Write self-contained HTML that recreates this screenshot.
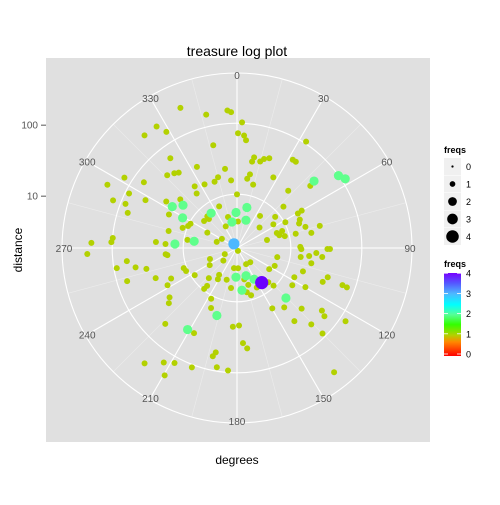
<!DOCTYPE html>
<html><head><meta charset="utf-8"><style>
html,body{margin:0;padding:0;background:#fff;}
svg text{font-family:"Liberation Sans",sans-serif;}
</style></head><body>
<svg id="chart" width="500" height="500" viewBox="0 0 500 500">
<rect x="0" y="0" width="500" height="500" fill="#fff"/>
<rect x="46" y="58" width="384" height="384" fill="#e0e0e0"/>
<g id="grid"></g>
<g id="points"></g>
<g id="alabels"></g>
<text x="237" y="56" font-size="14" text-anchor="middle" fill="#000">treasure log plot</text>
<text x="237" y="464" font-size="12" text-anchor="middle" fill="#000">degrees</text>
<text x="22" y="250" font-size="12" text-anchor="middle" fill="#000" transform="rotate(-90 22 250)">distance</text>
<g id="yaxis"></g>
<g>
<text x="444" y="153" font-size="9" font-weight="bold">freqs</text>
<g id="sizeLegend"></g>
</g>
<g>
<text x="444" y="267" font-size="9" font-weight="bold">freqs</text>
<defs><linearGradient id="rb" x1="0" y1="1" x2="0" y2="0">
<stop offset="0" stop-color="#ff0000"/><stop offset="0.17" stop-color="#ff8800"/><stop offset="0.25" stop-color="#b3d100"/><stop offset="0.38" stop-color="#33ff00"/><stop offset="0.5" stop-color="#55ff99"/><stop offset="0.62" stop-color="#00ffff"/><stop offset="0.75" stop-color="#4db8ff"/><stop offset="0.88" stop-color="#5555ff"/><stop offset="1" stop-color="#7700ff"/></linearGradient></defs>
<rect x="444" y="273" width="17" height="83" fill="url(#rb)"/>
<g id="colorLegend"></g>
</g>
</svg>
<script>
const degrees=[338,347,356,357.5,2.3,0.5,3.6,4.8,347,326.5,328.7,320.6,33,323.4,10.7,9.9,15,16.9,19.8,32.3,34.3,333.7,351.4,320,322.3,316.2,302,296,305.2,345,10,8.4,14.3,355,27.2,333,341.3,325.5,323.5,0,41.8,49.7,49,54.5,57.4,296.8,291,291.6,297.6,287.8,303.3,310.6,302.6,308.4,336.8,48.3,296.2,316.8,316,309.3,323.4,343.8,358.4,13.7,35.7,50.8,57,60.5,60,65.7,68.5,62,72.8,75,299,297.6,294.2,290.3,349,2,17.8,332.4,284,297.3,47.7,78.5,76.4,69.4,73.2,76,69.3,75,274.2,273.2,279.3,278.8,279,273.7,286.7,301,272.7,274.6,272,267.7,323,162,89,91,90.6,90.6,93.6,102.7,96.3,96,243.4,265,247.8,263.2,264.2,227.3,98,237.8,101.6,260.5,259.2,257,249.3,245.7,188.5,177,137,150.6,115.3,123.3,109.5,253.2,249.7,245.2,237.3,223,213.7,211.5,198,182,162,151.3,167,144.5,137.6,135.8,117,124,107.9,111.6,109.4,109.7,119.8,241.8,218.3,218.8,163,188.5,153.4,173.4,167.5,163.4,233.8,231,207,203.4,135.6,149.7,141.5,133.2,126.4,128,196.6,223.4,183,178.5,141.9,135.8,124,211.2,206.8,135,176.4,174.2,191.5,192.6,218.7,212.6,208.5,209.6,200.7,189.6,184.2,142,156.5];
const distance=[250,158,163,153,110,77,72,62,57,210,153,210,114,70,37,32,34,38,41,55,55,35,25,44,41,49,138,200,75,20,21,18,15.5,16.8,24.5,18.9,18,21,16.8,10.6,22.5,42,51,106,120,94,138,91,53,77,29,21,22.5,17.4,8.1,14,21.8,7.6,6.9,7.4,7.6,5.3,5.9,7.2,6.7,9.2,7.6,18,21,17.4,16.2,11,19,30,14,10.2,10.6,12.2,4.4,4.4,4.8,4.1,18.3,5.5,5,21.8,13.2,7.4,7.8,9.2,8.9,5.1,26,19,9.5,8.1,7.6,14,3.7,3.3,110,106,210,240,2.2,2.05,14.5,15,35,38,24.5,7.1,19.6,30,2.9,19,4.8,68,18,3.4,15,5.3,21.8,97,53,38,11.8,11.4,3.6,3.6,3.5,3.4,7.2,6.5,18,77,31,19.6,9.5,7.1,5.3,6.1,5.5,4.8,4.8,5.9,5.3,7.4,8.4,10.2,15,16.2,41,37,70,82,24,24,8.9,10.2,6.5,6.9,7.8,7.4,8.1,9.2,28,32,11.8,15.5,18,18,21.8,33,57,68,18.3,55,24,23,38,59,130,41,41,94,41,49,59,68,225,153,130,215,117,94,100,310,185];
const freqs=[1,1,1,1,1,1,1,1,1,1,1,1,1,1,1,1,1,1,1,1,1,1,1,1,1,1,1,1,1,1,1,1,1,1,1,1,1,1,1,1,1,1,2,2,2,1,1,1,1,1,1,1,2,2,1,1,1,1,1,1,2,1,2,2,1,1,1,1,1,1,1,1,1,1,2,1,1,1,2,1,2,1,1,1,1,1,1,1,1,1,1,1,1,1,1,1,2,2,1,1,1,1,1,1,3,1,1,1,1,1,1,1,1,1,1,1,1,1,1,1,1,1,1,1,1,1,1,1,1,1,1,1,1,1,1,1,1,1,1,1,1,1,1,2,2,2,1,4,1,1,1,1,1,1,1,1,1,1,1,1,1,1,1,2,1,1,1,1,1,1,2,1,1,1,1,1,2,1,1,1,1,1,1,2,1,1,1,1,1,1,1,1,1,1,1,1,1,1];
const angleTicks=[0,30,60,90,120,150,180,210,240,270,300,330];
const radialTicks=[10,100];
const legendFreqs=[0,1,2,3,4];
const NS='http://www.w3.org/2000/svg';
const cx=237,cy=248,R=175,L0=0.27,K=71;
function rScale(d){return (Math.log10(d)-L0)*K;}
function px(a,r){return cx+r*Math.sin(a*Math.PI/180);}
function py(a,r){return cy-r*Math.cos(a*Math.PI/180);}
function sizeScale(f){return [1.2,3.0,4.6,5.6,6.6][f];}
function colorScale(f){return ['#ff0000','#b3d100','#5fff8c','#4db8ff','#6a00ff'][f];}
function mk(tag,attrs,parent){const e=document.createElementNS(NS,tag);for(const k in attrs)e.setAttribute(k,attrs[k]);parent.appendChild(e);return e;}
const grid=document.getElementById('grid');
for(let a=0;a<360;a+=15){
  const ln=mk('line',{x1:cx,y1:cy,x2:px(a,R),y2:py(a,R),stroke:a%30===0?'#fff':'#ececec','stroke-width':a%30===0?1.1:0.6},grid);
  
  
}
radialTicks.forEach(t=>{
  const c=mk('circle',{cx:cx,cy:cy,r:rScale(t)+2,fill:'none',stroke:'#fff','stroke-width':1.1},grid);
  
  
});
const oc=mk('circle',{cx:cx,cy:cy,r:R,fill:'none',stroke:'#fff','stroke-width':1.1},grid);


const al=document.getElementById('alabels');
angleTicks.forEach(a=>{
  const t=mk('text',{x:px(a,R-2),y:py(a,R-2)+4,'font-size':10,'text-anchor':'middle',fill:'#555'},al);
  t.textContent=a;
  
  
});
const ya=document.getElementById('yaxis');
radialTicks.forEach(t=>{
  const y=cy-rScale(t);
  const tk=mk('line',{x1:41,y1:y,x2:46,y2:y,stroke:'#555','stroke-width':1},ya);
  
  
  const tx=mk('text',{x:38,y:y+3.5,'font-size':10,'text-anchor':'end',fill:'#555'},ya);
  tx.textContent=t;
  
  
});
const pg=document.getElementById('points');
const order=degrees.map((d,i)=>i).sort((a,b)=>freqs[a]-freqs[b]);
order.forEach(i=>{
  const r=rScale(distance[i]);
  const c=mk('circle',{cx:px(degrees[i],r),cy:py(degrees[i],r),r:sizeScale(freqs[i]),fill:colorScale(freqs[i])},pg);
  
  
});
const sl=document.getElementById('sizeLegend');
legendFreqs.forEach((f,i)=>{
  const y=158+i*17.5;
  const k=mk('rect',{x:444,y:y,width:17,height:17,fill:'#f0f0f0'},sl);
  
  
  const d=mk('circle',{cx:452.5,cy:y+8.5,r:sizeScale(f)*0.95,fill:'#000'},sl);
  
  
  const t=mk('text',{x:466,y:y+12,'font-size':9,fill:'#000'},sl);
  t.textContent=f;
  
  
});
const cl=document.getElementById('colorLegend');
legendFreqs.forEach(f=>{
  const y=354-f*20.2;
  const t=mk('text',{x:466,y:y+3.5,'font-size':9,fill:'#000'},cl);
  t.textContent=f;
  
  
  const tk=mk('line',{x1:444,y1:y,x2:448,y2:y,stroke:'#fff','stroke-width':0.8},cl);
  
  
  const tk2=mk('line',{x1:457,y1:y,x2:461,y2:y,stroke:'#fff','stroke-width':0.8},cl);
  
  
});
</script>
</body></html>
